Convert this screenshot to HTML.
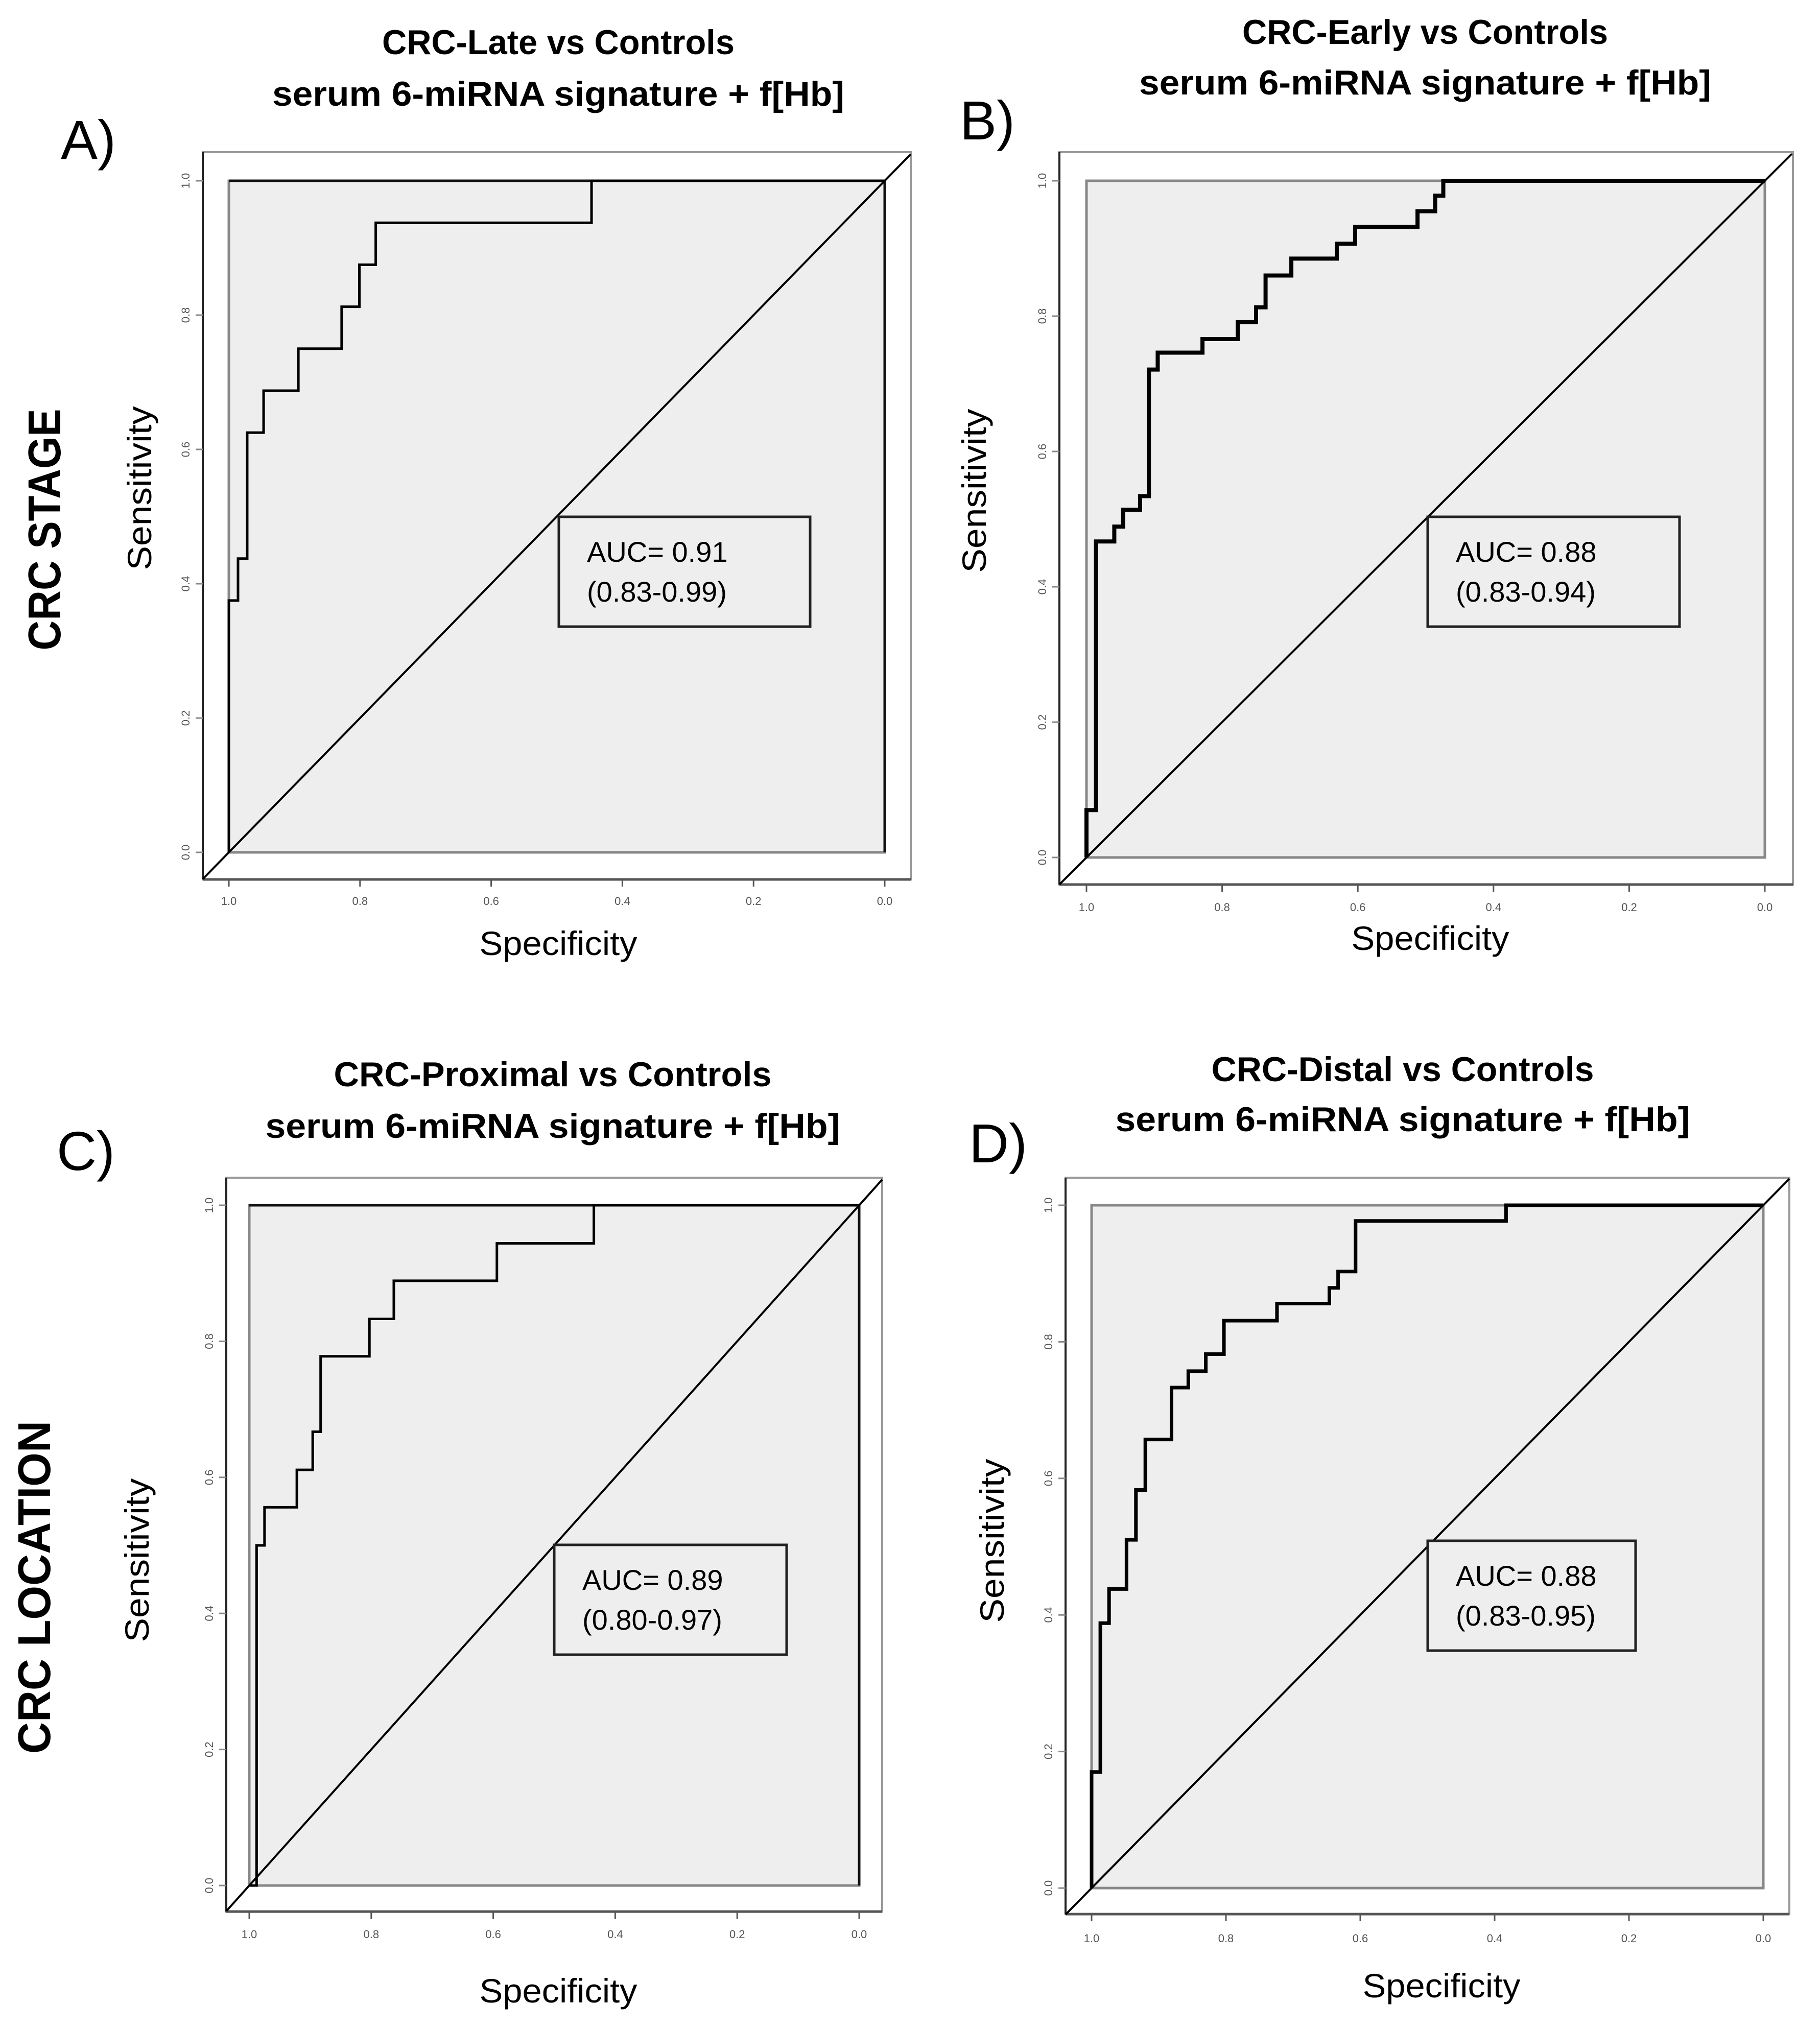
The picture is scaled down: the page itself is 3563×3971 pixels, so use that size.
<!DOCTYPE html>
<html><head><meta charset="utf-8"><style>
html,body{margin:0;padding:0;background:#fff;}
svg{display:block;font-family:"Liberation Sans",sans-serif;}
</style></head><body>
<svg id="fig" width="3563" height="3971" viewBox="0 0 3563 3971" xmlns="http://www.w3.org/2000/svg">
<rect x="0" y="0" width="3563" height="3971" fill="#fff"/>
<text transform="translate(118,1037) rotate(-90)" text-anchor="middle" font-weight="bold" font-size="90" textLength="473" lengthAdjust="spacingAndGlyphs">CRC  STAGE</text>
<text transform="translate(98,3108) rotate(-90)" text-anchor="middle" font-weight="bold" font-size="90" textLength="652" lengthAdjust="spacingAndGlyphs">CRC  LOCATION</text>
</svg>
<script>
// Panel A: CRC-Late vs Controls
const specA = [1.0, 0.986, 0.972, 0.947, 0.894, 0.828, 0.801, 0.776, 0.447];
const sensA = [0.375, 0.4375, 0.625, 0.6875, 0.75, 0.8125, 0.875, 0.9375, 1.0];
// Panel B: CRC-Early vs Controls
const specB = [1.0, 0.986, 0.959, 0.946, 0.921, 0.908, 0.895, 0.829, 0.777, 0.75, 0.736, 0.698, 0.631, 0.604, 0.512, 0.486, 0.474];
const sensB = [0.07, 0.467, 0.489, 0.514, 0.534, 0.721, 0.746, 0.766, 0.791, 0.813, 0.86, 0.885, 0.907, 0.932, 0.955, 0.978, 1.0];
// Panel C: CRC-Proximal vs Controls
const specC = [0.988, 0.975, 0.922, 0.896, 0.883, 0.803, 0.763, 0.594, 0.435];
const sensC = [0.5, 0.556, 0.611, 0.667, 0.778, 0.833, 0.889, 0.944, 1.0];
// Panel D: CRC-Distal vs Controls
const specD = [1.0, 0.987, 0.974, 0.948, 0.934, 0.92, 0.881, 0.856, 0.83, 0.803, 0.724, 0.646, 0.633, 0.607, 0.383];
const sensD = [0.17, 0.388, 0.438, 0.51, 0.583, 0.657, 0.733, 0.757, 0.782, 0.831, 0.856, 0.879, 0.903, 0.977, 1.0];
const tickValues = [1.0, 0.8, 0.6, 0.4, 0.2, 0.0];
const tickLabels = ["1.0", "0.8", "0.6", "0.4", "0.2", "0.0"];
const aucLabels = ["AUC= 0.91", "AUC= 0.88", "AUC= 0.89", "AUC= 0.88"];
const ciLabels = ["(0.83-0.99)", "(0.83-0.94)", "(0.80-0.97)", "(0.83-0.95)"];
const titles1 = ["CRC-Late vs Controls", "CRC-Early vs Controls", "CRC-Proximal vs Controls", "CRC-Distal vs Controls"];
const letters = ["A)", "B)", "C)", "D)"];

const NS = "http://www.w3.org/2000/svg";
const svg = document.getElementById('fig');
function mk(tag, attrs, parent, txt){
  const e = document.createElementNS(NS, tag);
  for (const k in attrs) e.setAttribute(k, attrs[k]);
  if (txt !== undefined) e.textContent = txt;
  (parent || svg).appendChild(e);
  return e;
}

const panels = [
 {spec:specA, sens:sensA, oL:397,oR:1783,oT:298,oB:1722, x1:448,x0:1732,yT:354,yB:1669, tickY:1772,
  tcx:1093,t1y:106,t2y:207,t1w:690,t2w:1120, lx:119,ly:311, sens_c:[296,956], spec_c:[1093,1870],
  box:[1094,1012,1586,1227], lw:5, key:'a', darkRight:true},
 {spec:specB, sens:sensB, oL:2074,oR:3510,oT:298,oB:1732, x1:2127,x0:3455,yT:354,yB:1679, tickY:1784,
  tcx:2790,t1y:86,t2y:185,t1w:716,t2w:1120, lx:1879,ly:273, sens_c:[1930,961], spec_c:[2800,1860],
  box:[2795,1012,3288,1227], lw:8, key:'b', darkRight:false},
 {spec:specC, sens:sensC, oL:443,oR:1727,oT:2306,oB:3743, x1:488,x0:1682,yT:2360,yB:3692, tickY:3795,
  tcx:1082,t1y:2127,t2y:2228,t1w:857,t2w:1125, lx:111,ly:2291, sens_c:[291,3055], spec_c:[1093,3921],
  box:[1085,3025,1540,3240], lw:5, key:'c', darkRight:true},
 {spec:specD, sens:sensD, oL:2086,oR:3503,oT:2306,oB:3748, x1:2137,x0:3452,yT:2360,yB:3697, tickY:3803,
  tcx:2746,t1y:2117,t2y:2215,t1w:749,t2w:1125, lx:1897,ly:2276, sens_c:[1965,3017], spec_c:[2822,3911],
  box:[2795,3017,3202,3232], lw:7, key:'d', darkRight:false}
];

panels.forEach((p, i) => {
  const g = mk('g', {});
  
  
  const X = s => p.x0 + (p.x1 - p.x0) * s;
  const Y = v => p.yB - (p.yB - p.yT) * v;

  const t1 = mk('text', {x:p.tcx, y:p.t1y, 'text-anchor':'middle', 'font-weight':'bold', 'font-size':68, textLength:p.t1w, lengthAdjust:'spacingAndGlyphs'}, g, titles1[i]);
  
  
  const t2 = mk('text', {x:p.tcx, y:p.t2y, 'text-anchor':'middle', 'font-weight':'bold', 'font-size':68, textLength:p.t2w, lengthAdjust:'spacingAndGlyphs'}, g, 'serum 6-miRNA signature + f[Hb]');
  
  
  const lt = mk('text', {x:p.lx, y:p.ly, 'font-size':108}, g, letters[i]);
  
  

  const ob = mk('rect', {x:p.oL, y:p.oT, width:p.oR-p.oL, height:p.oB-p.oT, fill:'#fff', stroke:'#999', 'stroke-width':4}, g);
  
  
  mk('line', {x1:p.oL, y1:p.oT, x2:p.oL, y2:p.oB, stroke:'#222', 'stroke-width':4}, g);
  mk('line', {x1:p.oL, y1:p.oB, x2:p.oR, y2:p.oB, stroke:'#555', 'stroke-width':5}, g);

  const ib = mk('rect', {x:X(1), y:Y(1), width:X(0)-X(1), height:Y(0)-Y(1), fill:'#eeeeee', stroke:'#888', 'stroke-width':5}, g);
  
  
  if (p.darkRight) {
    mk('line', {x1:X(0), y1:Y(1), x2:X(0), y2:Y(0), stroke:'#111', 'stroke-width':5}, g);
    mk('line', {x1:X(1), y1:Y(1), x2:X(0), y2:Y(1), stroke:'#111', 'stroke-width':5}, g);
  }

  tickValues.forEach((v, k) => {
    mk('line', {x1:X(v), y1:p.oB, x2:X(v), y2:p.oB+14, stroke:'#555', 'stroke-width':3}, g);
    const tx = mk('text', {x:X(v), y:p.tickY, 'text-anchor':'middle', 'font-size':22, fill:'#555'}, g, tickLabels[k]);
    
    
    mk('line', {x1:p.oL-14, y1:Y(v), x2:p.oL, y2:Y(v), stroke:'#888', 'stroke-width':3}, g);
    const ty = mk('text', {transform:'translate(' + (p.oL-26) + ',' + Y(v) + ') rotate(-90)', 'text-anchor':'middle', 'font-size':22, fill:'#555'}, g, tickLabels[k]);
    
    
  });

  const e = (p.x1 - p.oL) / (p.x0 - p.x1);
  const dg = mk('line', {x1:X(1+e), y1:Y(-e), x2:X(-e), y2:Y(1+e), stroke:'#000', 'stroke-width':4}, g);
  
  

  let d = 'M' + X(1) + ' ' + Y(0);
  let cur = 0;
  for (let k = 0; k < p.spec.length; k++) {
    d += ' L' + X(p.spec[k]) + ' ' + Y(cur);
    d += ' L' + X(p.spec[k]) + ' ' + Y(p.sens[k]);
    cur = p.sens[k];
  }
  d += ' L' + X(0) + ' ' + Y(cur);
  const c = mk('path', {d:d, fill:'none', stroke:'#000', 'stroke-width':p.lw, 'stroke-linejoin':'miter'}, g);
  
  

  const sl = mk('text', {transform:'translate(' + p.sens_c[0] + ',' + p.sens_c[1] + ') rotate(-90)', 'text-anchor':'middle', 'font-size':66, textLength:321, lengthAdjust:'spacingAndGlyphs'}, g, 'Sensitivity');
  
  
  const sp = mk('text', {x:p.spec_c[0], y:p.spec_c[1], 'text-anchor':'middle', 'font-size':66, textLength:309, lengthAdjust:'spacingAndGlyphs'}, g, 'Specificity');
  
  

  const b = p.box;
  const br = mk('rect', {x:b[0], y:b[1], width:b[2]-b[0], height:b[3]-b[1], fill:'#eeeeee', stroke:'#222', 'stroke-width':5}, g);
  
  
  const a1 = mk('text', {x:b[0]+55, y:b[1]+88, 'font-size':56}, g, aucLabels[i]);
  
  
  const a2 = mk('text', {x:b[0]+55, y:b[1]+166, 'font-size':56}, g, ciLabels[i]);
  
  
});
</script>
</body></html>
